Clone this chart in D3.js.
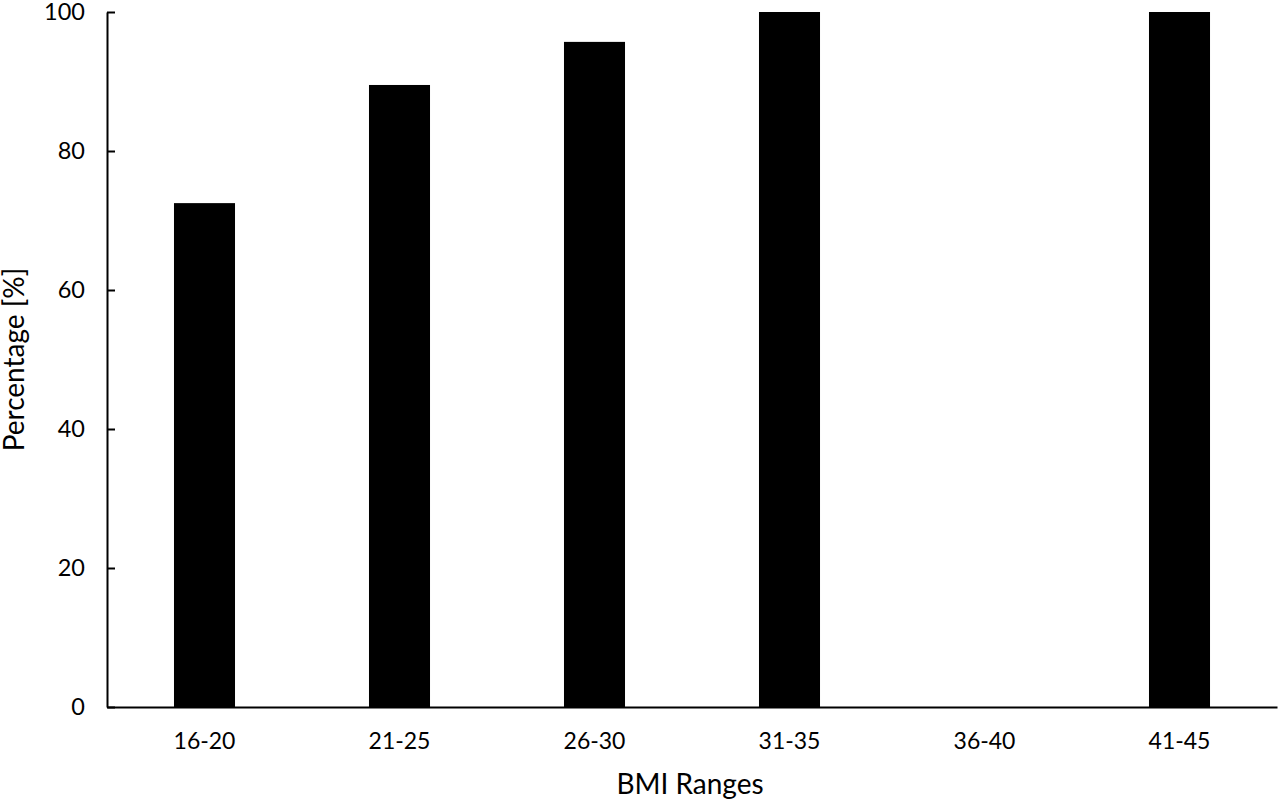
<!DOCTYPE html>
<html><head><meta charset="utf-8">
<script src="https://cdn.jsdelivr.net/npm/d3@7"></script>
<style>body{margin:0;background:#fff}text{font-family:Lato,"Open Sans",sans-serif;fill:#000}</style>
</head><body><svg id="c" width="1280" height="804"></svg>
<script>
const categories = ["16-20","21-25","26-30","31-35","36-40","41-45"];
const values = [72.5, 89.5, 95.7, 100, 0, 100];
const yTicks = [0,20,40,60,80,100];

const svg = d3.select("#c");
const mLeft = 107, mRight = 1277, mTop = 12, mBottom = 707;
const x = d3.scaleBand().domain(categories).range([mLeft, mRight]).paddingInner(0.687).paddingOuter(0.3435);
const y = d3.scaleLinear().domain([0,100]).range([mBottom, mTop]);

svg.selectAll("rect.bar").data(values).enter().append("rect")
  .attr("class","bar")
  .attr("x",(d,i)=>x(categories[i]))
  .attr("width",x.bandwidth())
  .attr("y",d=>y(d))
  .attr("height",d=>mBottom-y(d))
  .attr("fill","#000");

const yAxis = svg.append("g").attr("transform",`translate(${mLeft},0)`)
  .call(d3.axisLeft(y).tickValues(yTicks).tickSize(-8).tickPadding(22).tickSizeOuter(0));
yAxis.select(".domain").attr("stroke","#000").attr("stroke-width",2);
yAxis.selectAll(".tick line").attr("stroke","#000").attr("stroke-width",2);
yAxis.selectAll(".tick text").attr("font-size",23.5).attr("font-family","Lato, 'Open Sans', sans-serif");

const xAxis = svg.append("g").attr("transform",`translate(0,${mBottom})`)
  .call(d3.axisBottom(x).tickSize(0).tickPadding(26).tickSizeOuter(0));
xAxis.select(".domain").attr("stroke","#000").attr("stroke-width",2);
xAxis.selectAll(".tick text").attr("font-size",23).attr("font-family","Lato, 'Open Sans', sans-serif");

svg.append("text").attr("x",690).attr("y",794).attr("text-anchor","middle")
  .attr("font-size",28).text("BMI Ranges");
svg.append("text").attr("transform",`translate(24,${(mTop+mBottom)/2}) rotate(-90)`)
  .attr("text-anchor","middle").attr("font-size",28).text("Percentage [%]");
</script></body></html>
